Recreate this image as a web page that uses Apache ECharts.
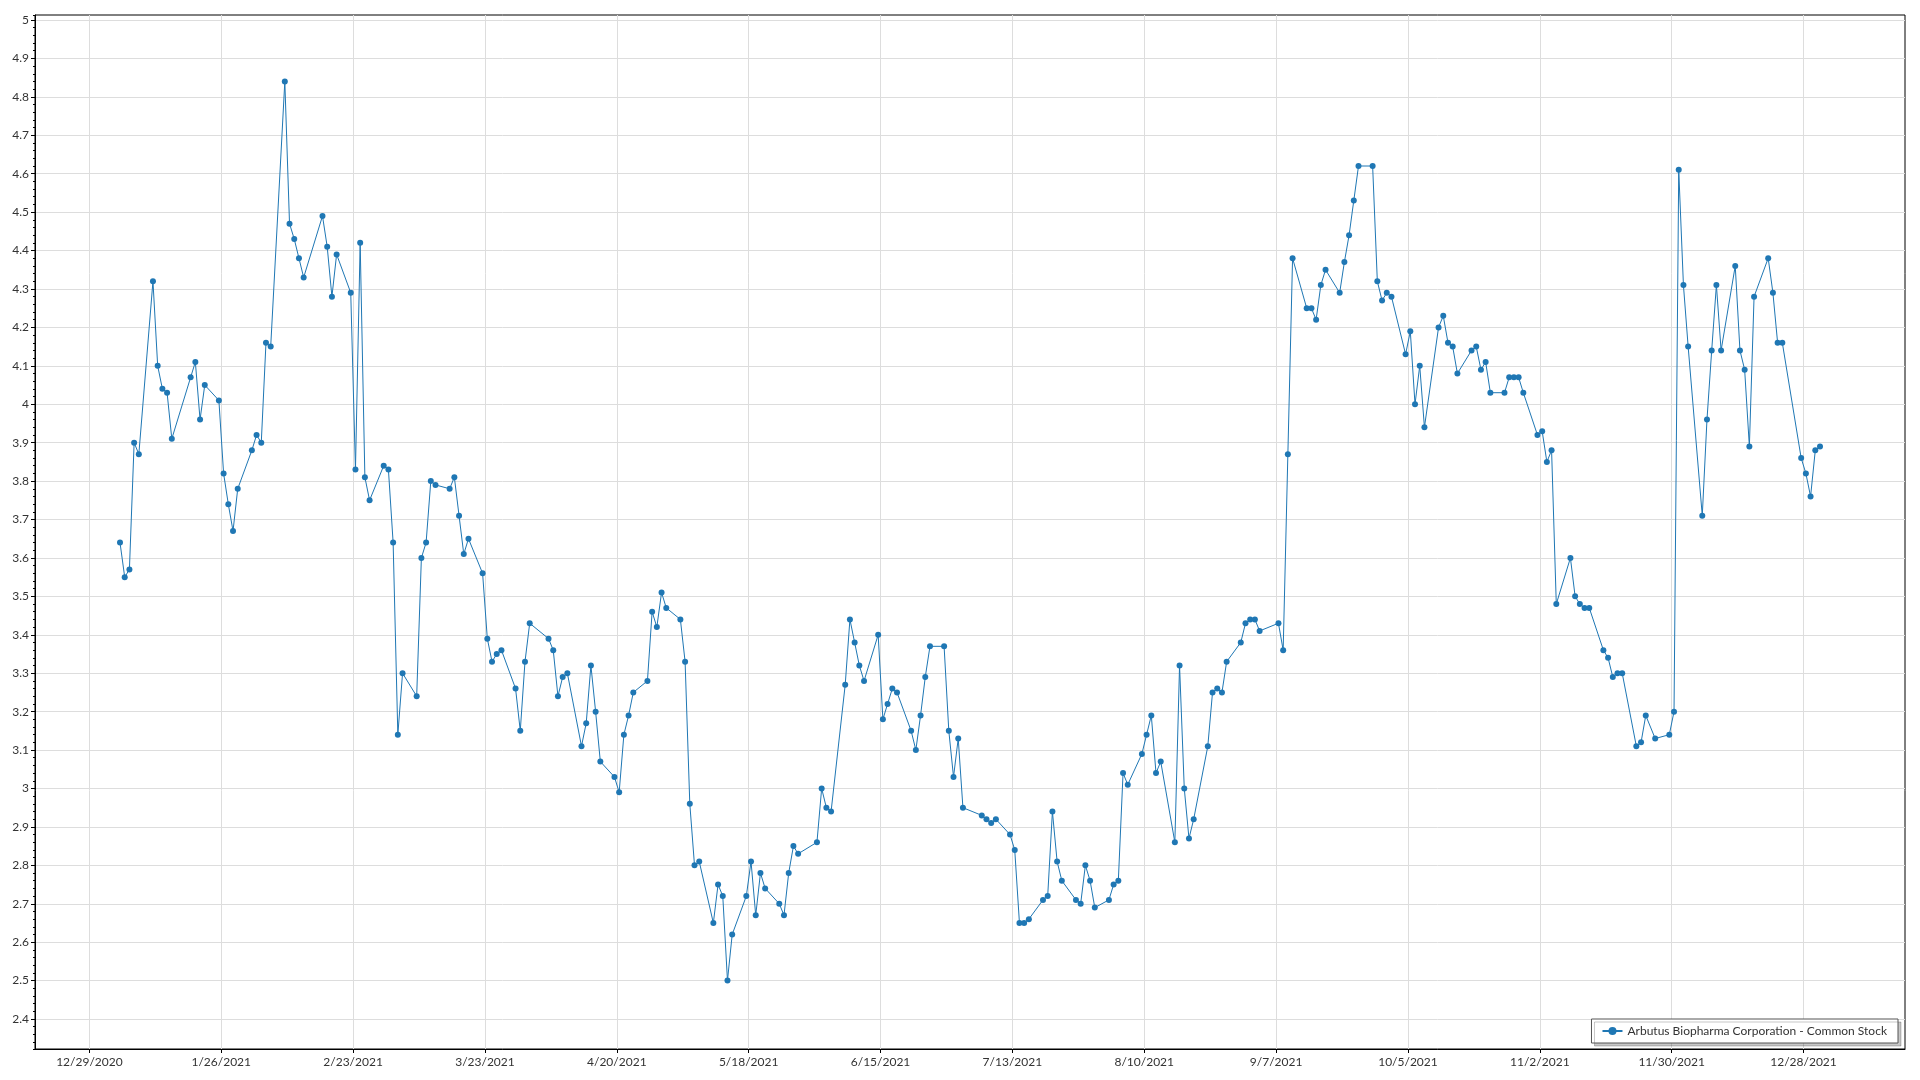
<!DOCTYPE html>
<html>
<head>
<meta charset="utf-8">
<script src="https://cdn.jsdelivr.net/npm/echarts@6/dist/echarts.min.js"></script>
<style>
html,body{margin:0;padding:0;background:#ffffff;}
#chart{width:1920px;height:1080px;}
</style>
</head>
<body>
<div id="chart"></div>
<script>
// ---------------- data ----------------
const seriesName = 'Arbutus Biopharma Corporation - Common Stock';
const marketHolidays2021 = ['2021-01-01','2021-01-18','2021-02-15','2021-04-02','2021-05-31','2021-07-05','2021-09-06','2021-11-25','2021-12-24'];

const jan = [3.64,3.55,3.57,3.90,3.87,4.32,4.10,4.04,4.03,3.91,4.07,4.11,3.96,4.05,4.01,3.82,3.74,3.67,3.78];
const feb = [3.88,3.92,3.90,4.16,4.15,4.84,4.47,4.43,4.38,4.33,4.49,4.41,4.28,4.39,4.29,3.83,4.42,3.81,3.75];
const mar = [3.84,3.83,3.64,3.14,3.30,3.24,3.60,3.64,3.80,3.79,3.78,3.81,3.71,3.61,3.65,3.56,3.39,3.33,3.35,3.36,3.26,3.15,3.33];
const apr = [3.43,3.39,3.36,3.24,3.29,3.30,3.11,3.17,3.32,3.20,3.07,3.03,2.99,3.14,3.19,3.25,3.28,3.46,3.42,3.51,3.47];
const may = [3.44,3.33,2.96,2.80,2.81,2.65,2.75,2.72,2.50,2.62,2.72,2.81,2.67,2.78,2.74,2.70,2.67,2.78,2.85,2.83];
const jun = [2.86,3.00,2.95,2.94,3.27,3.44,3.38,3.32,3.28,3.40,3.18,3.22,3.26,3.25,3.15,3.10,3.19,3.29,3.37,3.37,3.15,3.03];
const jul = [3.13,2.95,2.93,2.92,2.91,2.92,2.88,2.84,2.65,2.65,2.66,2.71,2.72,2.94,2.81,2.76,2.71,2.70,2.80,2.76,2.69];
const aug = [2.71,2.75,2.76,3.04,3.01,3.09,3.14,3.19,3.04,3.07,2.86,3.32,3.00,2.87,2.92,3.11,3.25,3.26,3.25,3.33,3.38,3.43];
const sep = [3.44,3.44,3.41,3.43,3.36,3.87,4.38,4.25,4.25,4.22,4.31,4.35,4.29,4.37,4.44,4.53,4.62,4.62,4.32,4.27,4.29];
const oct = [4.28,4.13,4.19,4.00,4.10,3.94,4.20,4.23,4.16,4.15,4.08,4.14,4.15,4.09,4.11,4.03,4.03,4.07,4.07,4.07,4.03];
const nov = [3.92,3.93,3.85,3.88,3.48,3.60,3.50,3.48,3.47,3.47,3.36,3.34,3.29,3.30,3.30,3.11,3.12,3.19,3.13,3.14,3.20];
const dec = [4.61,4.31,4.15,3.71,3.96,4.14,4.31,4.14,4.36,4.14,4.09,3.89,4.28,4.38,4.29,4.16,4.16,3.86,3.82,3.76,3.88,3.89];

// x axis: days counted from the first tick date; ticks every 28 days
const xAxisBaseDate = '2020-12-29';
const xTickStepDays = 28;
const yMin = 2.322, yMax = 5.013;

// ---------------- build ----------------
const DAY = 86400000;
function parseDay(s){ const p = s.split('-').map(Number); return Date.UTC(p[0], p[1]-1, p[2]); }
const baseT = parseDay(xAxisBaseDate);
const holidaySet = new Set(marketHolidays2021);
const tradingDays = [];
for (let t = Date.UTC(2021,0,1); t <= Date.UTC(2021,11,31); t += DAY) {
  const d = new Date(t);
  const wd = d.getUTCDay();
  const key = d.toISOString().slice(0,10);
  if (wd === 0 || wd === 6 || holidaySet.has(key)) continue;
  tradingDays.push(t);
}
const values = [].concat(jan,feb,mar,apr,may,jun,jul,aug,sep,oct,nov,dec);
const seriesData = [];
for (let i = 0; i < Math.min(values.length, tradingDays.length); i++) {
  // point sits at mid-day of its trading date
  seriesData.push([(tradingDays[i] - baseT) / DAY + 0.5, values[i]]);
}
const x0 = seriesData[0][0], x1 = seriesData[seriesData.length-1][0];
const pad = (x1 - x0) * 0.05;

function fmtDate(v){
  const d = new Date(baseT + Math.round(v) * DAY);
  return (d.getUTCMonth()+1) + '/' + d.getUTCDate() + '/' + d.getUTCFullYear();
}

const FONT = "'Segoe UI', Lato, 'Noto Sans', sans-serif";
const chart = echarts.init(document.getElementById('chart'), null, {renderer:'canvas'});
chart.setOption({
  animation: false,
  backgroundColor: '#ffffff',
  textStyle: { fontFamily: FONT },
  grid: { left: 35, right: 15, top: 15, bottom: 31, show: true, borderColor: '#000000', borderWidth: 1, containLabel: false },
  xAxis: {
    type: 'value',
    min: x0 - pad,
    max: x1 + pad,
    splitNumber: 14, minInterval: xTickStepDays, maxInterval: xTickStepDays,
    axisLine: { show: true, onZero: false, lineStyle: { color: '#000000', width: 1 } },
    axisTick: { show: true, length: 4, lineStyle: { color: '#000000' } },
    axisLabel: {
      color: '#333333', fontSize: 12, fontFamily: FONT, margin: 7,
      showMinLabel: false, showMaxLabel: false,
      formatter: fmtDate
    },
    splitLine: { show: true, showMinLine: false, showMaxLine: false, lineStyle: { color: '#dddddd', width: 1 } }
  },
  yAxis: [{
    type: 'value',
    min: yMin, max: yMax,
    splitNumber: 27, minInterval: 0.1, maxInterval: 0.1,
    axisLine: { show: true, onZero: false, lineStyle: { color: '#000000', width: 1 } },
    axisTick: { show: true, length: 4, lineStyle: { color: '#000000' } },
    axisLabel: { color: '#333333', fontSize: 12, fontFamily: FONT, margin: 6, showMinLabel: false, showMaxLabel: false },
    splitLine: { show: true, showMinLine: false, showMaxLine: false, lineStyle: { color: '#dddddd', width: 1 } }
  }, {
    type: 'value',
    position: 'left',
    min: yMin, max: yMax,
    splitNumber: 135, minInterval: 0.02, maxInterval: 0.02,
    axisLine: { show: false, onZero: false },
    axisTick: { show: true, length: 2, lineStyle: { color: '#000000' } },
    axisLabel: { show: false },
    splitLine: { show: false }
  }],
  legend: {
    show: true,
    data: [seriesName],
    right: 22, bottom: 37,
    orient: 'horizontal',
    backgroundColor: '#ffffff',
    borderColor: '#555555', borderWidth: 1,
    shadowColor: 'rgba(0,0,0,0.22)', shadowBlur: 0, shadowOffsetX: 3, shadowOffsetY: 3,
    padding: [6, 11, 6, 10],
    itemWidth: 20, itemHeight: 10, itemGap: 5,
    textStyle: { color: '#333333', fontSize: 12, fontFamily: FONT }
  },
  series: [{
    name: seriesName,
    type: 'line',
    data: seriesData,
    xAxisIndex: 0, yAxisIndex: 0,
    showSymbol: true, showAllSymbol: true,
    symbol: 'circle', symbolSize: 6,
    itemStyle: { color: '#1f77b4', borderWidth: 0 },
    lineStyle: { color: '#1f77b4', width: 1 },
    emphasis: { disabled: true }
  }]
});
</script>
</body>
</html>
